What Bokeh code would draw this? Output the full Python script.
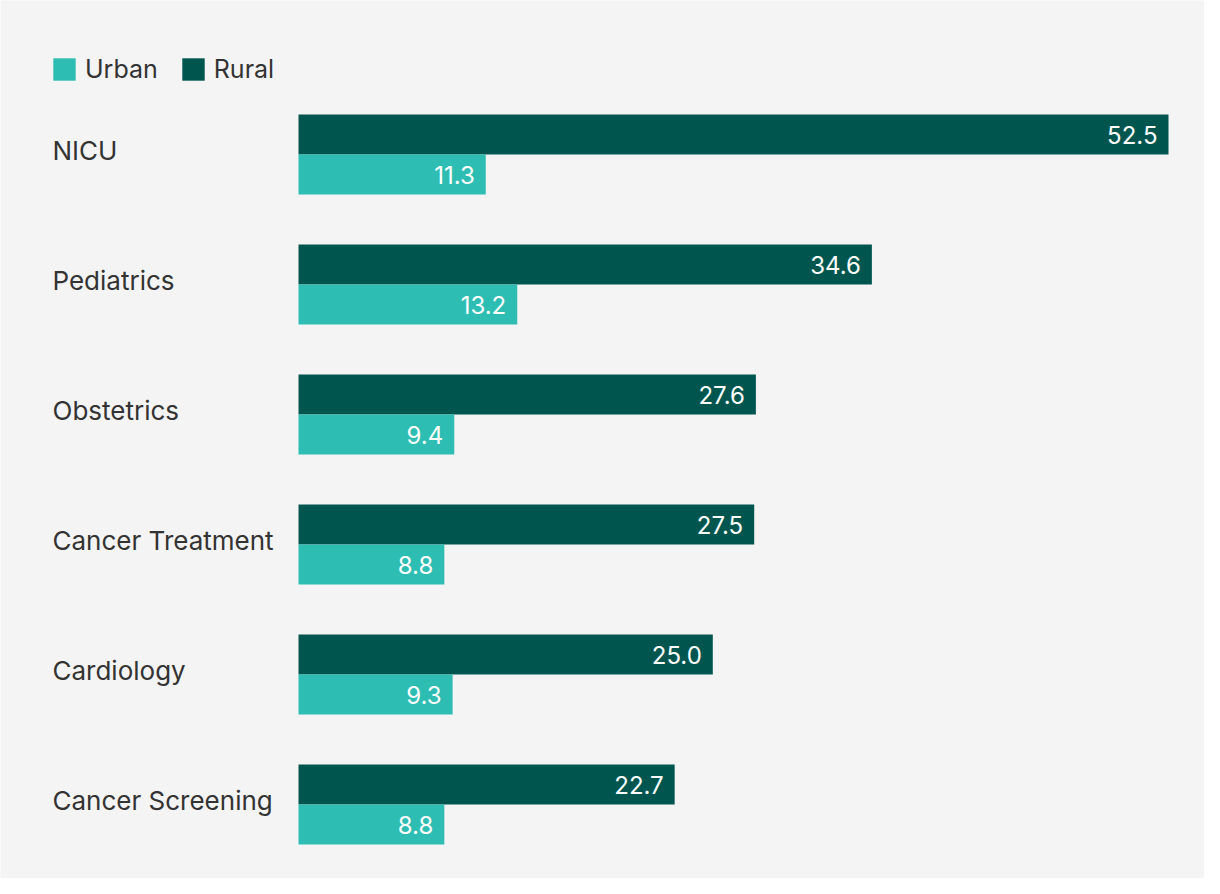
import numpy as np
from bokeh.plotting import figure
from bokeh.models import ColumnDataSource, Range1d, Legend, LegendItem
from bokeh.core.properties import value
from bokeh.embed import file_html
from bokeh.resources import INLINE

categories = ["NICU", "Pediatrics", "Obstetrics", "Cancer Treatment", "Cardiology", "Cancer Screening"]
rural = [52.5, 34.6, 27.6, 27.5, 25.0, 22.7]
urban = [11.3, 13.2, 9.4, 8.8, 9.3, 8.8]
series_names = ["Urban", "Rural"]

BG = "#f4f4f4"
RURAL_C = "#00564f"
URBAN_C = "#2ebdb3"
TEXT_C = "#333333"
FONT = "Inter"

W, H = 1204, 878
ppu = 870 / 52.5          # pixels per unit
x0_px = 298               # figure px where value 0 sits
row_px = 130
first_center_px = 154
half = 20 / row_px
bar_h = 40 / row_px

idx = np.arange(len(categories))
src = ColumnDataSource(dict(
    idx=idx,
    cat=categories,
    y_r=idx - half,
    y_u=idx + half,
    rural=rural,
    urban=urban,
    rural_lbl=[f"{v:.1f}" for v in rural],
    urban_lbl=[f"{v:.1f}" for v in urban],
    zero=[0] * len(categories),
))

p = figure(width=W, height=H, output_backend="svg", toolbar_location=None,
           x_range=Range1d(-x0_px / ppu, (W - x0_px) / ppu),
           y_range=Range1d((H - first_center_px) / row_px, -first_center_px / row_px),
           x_axis_type=None, y_axis_type=None, min_border=0)
p.background_fill_color = BG
p.border_fill_color = BG
p.outline_line_color = None
p.grid.visible = False

rr = p.hbar(y="y_r", left=0, right="rural", height=bar_h, source=src,
            fill_color=RURAL_C, line_color=None)
ru = p.hbar(y="y_u", left=0, right="urban", height=bar_h, source=src,
            fill_color=URBAN_C, line_color=None)

p.text(x="rural", y="y_r", text="rural_lbl", source=src, x_offset=-11,
       text_align="right", text_baseline="middle", text_color="white",
       text_font=value(FONT), text_font_size="24px")
p.text(x="urban", y="y_u", text="urban_lbl", source=src, x_offset=-11,
       text_align="right", text_baseline="middle", text_color="white",
       text_font=value(FONT), text_font_size="24px")
p.text(x="zero", y="idx", text="cat", source=src, x_offset=-246, y_offset=-4,
       text_align="left", text_baseline="middle", text_color=TEXT_C,
       text_font=value(FONT), text_font_size="26px")

legend = Legend(items=[LegendItem(label=series_names[0], renderers=[ru]),
                       LegendItem(label=series_names[1], renderers=[rr])],
                location=(50, H - 84), orientation="horizontal",
                glyph_width=28, glyph_height=28, label_standoff=7, spacing=21,
                padding=0, margin=0, background_fill_alpha=0, border_line_color=None,
                label_text_font=FONT, label_text_font_size="25px",
                label_text_color=TEXT_C, label_height=28)
p.add_layout(legend)

open("out.html", "w").write(file_html(p, INLINE))
